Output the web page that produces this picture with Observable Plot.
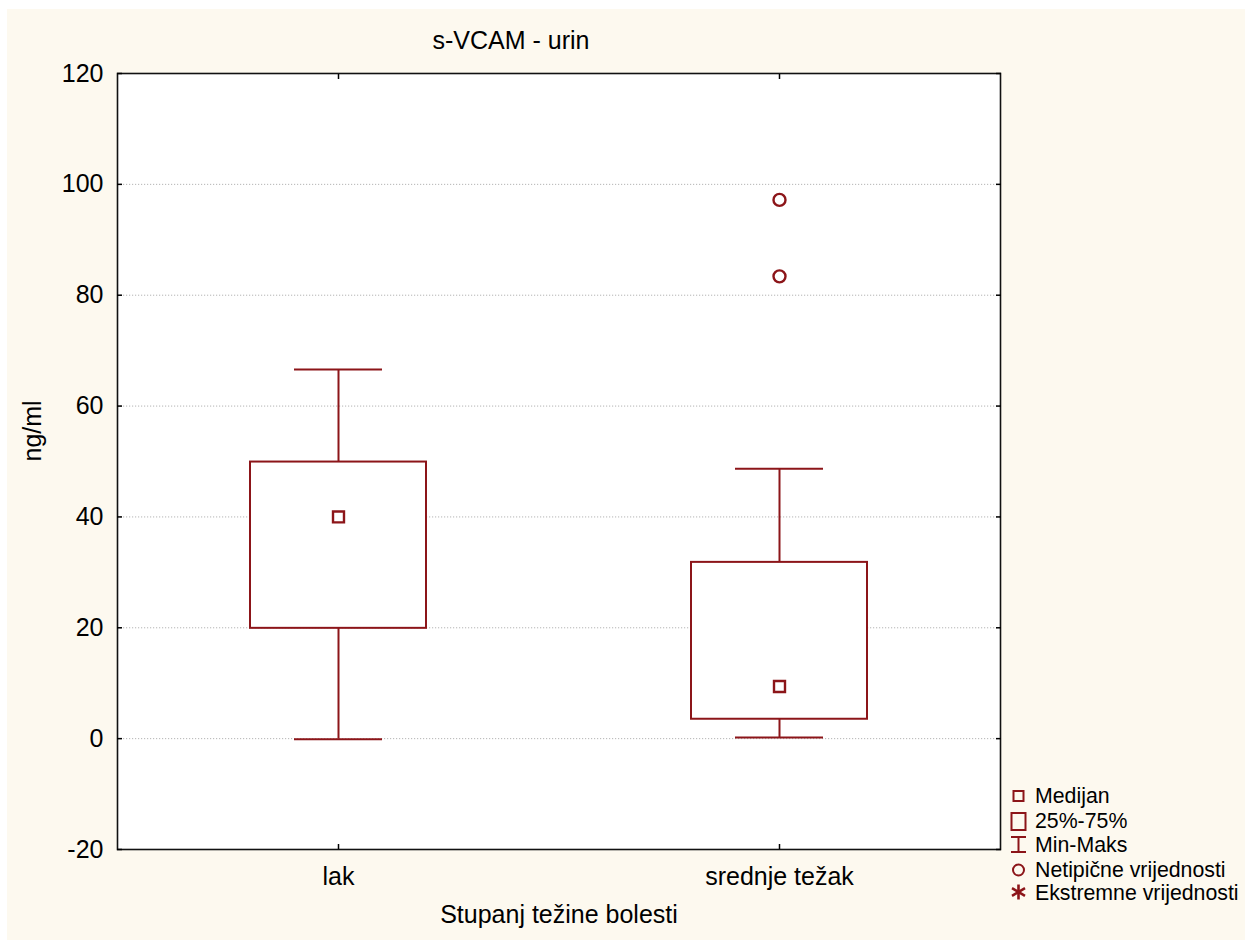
<!DOCTYPE html>
<html>
<head>
<meta charset="utf-8">
<script src="https://cdn.jsdelivr.net/npm/d3@7"></script>
<script src="https://cdn.jsdelivr.net/npm/@observablehq/plot@0.6"></script>
<style>
  body { margin: 0; background: #ffffff; font-family: "Liberation Sans", Arial, sans-serif; }
  #wrap { position: relative; width: 1245px; height: 940px; overflow: hidden; }
  #bg { position: absolute; left: 7px; top: 9px; right: 0; bottom: 0; background: #fdf9ef; }
  #chart { position: absolute; left: 0; top: 0; }
  #title { position: absolute; top: 26px; left: 0; width: 1022px; text-align: center; font-size: 25px; color: #000; line-height: 28px; }
  #legend { position: absolute; left: 1005px; top: 780px; }
</style>
</head>
<body>
<div id="wrap">
  <div id="bg"></div>
  <div id="chart"></div>
  <div id="title">s-VCAM - urin</div>
  <svg id="legend" width="240" height="130" font-family="Liberation Sans, Arial, sans-serif" font-size="21.3">
    <g fill="none" stroke="#8c1519" stroke-width="2">
      <rect x="8.5" y="11" width="10" height="10"></rect>
      <rect x="6.5" y="33" width="14" height="17"></rect>
      <line x1="13.5" y1="57" x2="13.5" y2="72"></line>
      <line x1="6" y1="57" x2="21" y2="57"></line>
      <line x1="6" y1="72" x2="21" y2="72"></line>
      <circle cx="13.5" cy="90" r="5.5"></circle>
    </g>
    <g fill="none" stroke="#8c1519" stroke-width="2.6">
      <line x1="13.5" y1="104.5" x2="13.5" y2="119.5"></line>
      <line x1="7" y1="108.2" x2="20" y2="115.8"></line>
      <line x1="7" y1="115.8" x2="20" y2="108.2"></line>
    </g>
    <g fill="#000">
      <text x="30" y="23">Medijan</text>
      <text x="30" y="48">25%-75%</text>
      <text x="30" y="72">Min-Maks</text>
      <text x="30" y="97">Netipične vrijednosti</text>
      <text x="30" y="120">Ekstremne vrijednosti</text>
    </g>
  </svg>
</div>
<script>
const groups = ["lak", "srednje težak"];
const mins = [-0.1, 0.2];
const q1s = [19.9, 3.5];
const medians = [40.0, 9.4];
const q3s = [49.9, 31.8];
const maxs = [66.6, 48.7];
const outlierGroups = ["srednje težak", "srednje težak"];
const outlierValues = [97.2, 83.4];
const yTicks = [-20, 0, 20, 40, 60, 80, 100, 120];
const gridTicks = [0, 20, 40, 60, 80, 100];

const boxes = groups.map((g, i) => ({group: g, min: mins[i], q1: q1s[i], median: medians[i], q3: q3s[i], max: maxs[i]}));
const outliers = outlierGroups.map((g, i) => ({group: g, value: outlierValues[i]}));

const red = "#8c1519";
const fs = 25;

const chart = Plot.plot({
  width: 1245,
  height: 940,
  marginLeft: 117,
  marginRight: 245,
  marginTop: 73,
  marginBottom: 91,
  style: {background: "transparent", fontFamily: "Liberation Sans, Arial, sans-serif", fontSize: fs + "px", color: "#000", overflow: "visible"},
  x: {type: "band", domain: groups, paddingInner: 0.6, paddingOuter: 0.3},
  y: {domain: [-20, 120]},
  marks: [
    Plot.frame({fill: "white", stroke: null}),
    Plot.gridY(gridTicks, {stroke: "#b4b4b4", strokeOpacity: 1, strokeDasharray: "1.2,1.8", strokeWidth: 1}),
    Plot.ruleX(boxes, {x: "group", y1: "q3", y2: "max", stroke: red, strokeWidth: 2}),
    Plot.ruleX(boxes, {x: "group", y1: "min", y2: "q1", stroke: red, strokeWidth: 2}),
    Plot.tickY(boxes, {x: "group", y: "max", stroke: red, strokeWidth: 2, insetLeft: 44, insetRight: 44}),
    Plot.tickY(boxes, {x: "group", y: "min", stroke: red, strokeWidth: 2, insetLeft: 44, insetRight: 44}),
    Plot.barY(boxes, {x: "group", y1: "q1", y2: "q3", fill: "white", stroke: red, strokeWidth: 2}),
    Plot.dot(boxes, {x: "group", y: "median", symbol: "square", r: 6.2, stroke: red, strokeWidth: 2.4, fill: "white"}),
    Plot.dot(outliers, {x: "group", y: "value", symbol: "circle", r: 6, stroke: red, strokeWidth: 2.4, fill: "none"}),
    Plot.frame({stroke: "#111", strokeWidth: 1.6}),
    Plot.axisY(yTicks, {anchor: "left", tickSize: 0, tickPadding: 14, fontSize: fs, label: null, tickFormat: d => String(d)}),
    Plot.axisY(yTicks, {anchor: "left", tickSize: 5, dx: 5, tickFormat: () => "", label: null, strokeWidth: 1.5}),
    Plot.axisY(yTicks, {anchor: "right", tickSize: 5, dx: -5, tickFormat: () => "", label: null, strokeWidth: 1.5}),
    Plot.axisX({anchor: "bottom", tickSize: 0, tickPadding: 18, fontSize: fs, label: null}),
    Plot.axisX({anchor: "bottom", tickSize: 5, dy: -5, tickFormat: () => "", label: null, strokeWidth: 1.5}),
    Plot.axisX({anchor: "top", tickSize: 5, dy: 5, tickFormat: () => "", label: null, strokeWidth: 1.5}),
    Plot.text(["ng/ml"], {text: d => d, frameAnchor: "left", dx: -85, rotate: -90, fontSize: fs, fill: "#000"}),
    Plot.text(["Stupanj težine bolesti"], {text: d => d, frameAnchor: "bottom", dy: 73, fontSize: fs, fill: "#000"})
  ]
});
document.getElementById("chart").appendChild(chart);
</script>
</body>
</html>
